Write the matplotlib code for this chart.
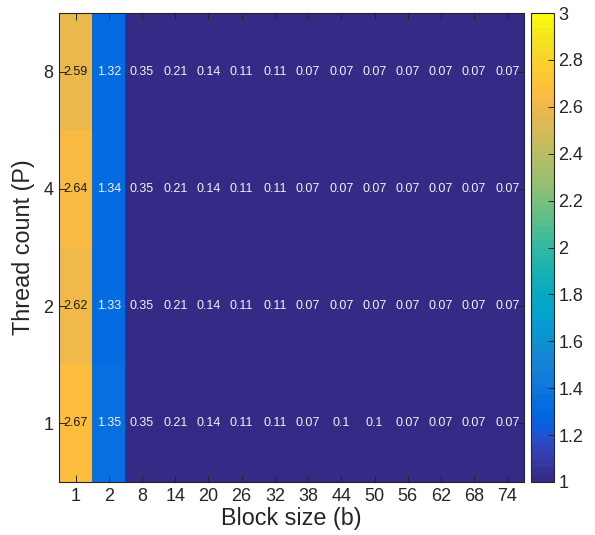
import numpy as np
import matplotlib
matplotlib.use("Agg")
import matplotlib.pyplot as plt
from matplotlib.colors import ListedColormap

plt.rcParams['font.family'] = ['Liberation Sans', 'DejaVu Sans']

block_sizes = ['1', '2', '8', '14', '20', '26', '32', '38', '44', '50', '56', '62', '68', '74']
thread_counts = ['1', '2', '4', '8']

p1 = [2.67, 1.35, 0.35, 0.21, 0.14, 0.11, 0.11, 0.07, 0.1, 0.1, 0.07, 0.07, 0.07, 0.07]
p2 = [2.62, 1.33, 0.35, 0.21, 0.14, 0.11, 0.11, 0.07, 0.07, 0.07, 0.07, 0.07, 0.07, 0.07]
p4 = [2.64, 1.34, 0.35, 0.21, 0.14, 0.11, 0.11, 0.07, 0.07, 0.07, 0.07, 0.07, 0.07, 0.07]
p8 = [2.59, 1.32, 0.35, 0.21, 0.14, 0.11, 0.11, 0.07, 0.07, 0.07, 0.07, 0.07, 0.07, 0.07]

parula_data = [[0.2081, 0.1663, 0.5292], [0.2116, 0.1898, 0.5777], [0.2123, 0.2138, 0.6270],
[0.2081, 0.2386, 0.6771], [0.1959, 0.2645, 0.7279], [0.1707, 0.2919, 0.7792], [0.1253, 0.3242, 0.8303],
[0.0591, 0.3598, 0.8683], [0.0117, 0.3875, 0.8820], [0.0060, 0.4086, 0.8828], [0.0165, 0.4266, 0.8786],
[0.0329, 0.4430, 0.8720], [0.0498, 0.4586, 0.8641], [0.0629, 0.4737, 0.8554], [0.0723, 0.4887, 0.8467],
[0.0779, 0.5040, 0.8384], [0.0793, 0.5200, 0.8312], [0.0749, 0.5375, 0.8263], [0.0641, 0.5570, 0.8240],
[0.0488, 0.5772, 0.8228], [0.0343, 0.5966, 0.8199], [0.0265, 0.6137, 0.8135], [0.0239, 0.6287, 0.8038],
[0.0231, 0.6418, 0.7913], [0.0228, 0.6535, 0.7768], [0.0267, 0.6642, 0.7607], [0.0384, 0.6743, 0.7436],
[0.0590, 0.6838, 0.7254], [0.0843, 0.6928, 0.7062], [0.1133, 0.7015, 0.6859], [0.1453, 0.7098, 0.6646],
[0.1801, 0.7177, 0.6424], [0.2178, 0.7250, 0.6193], [0.2586, 0.7317, 0.5954], [0.3022, 0.7376, 0.5712],
[0.3482, 0.7424, 0.5473], [0.3953, 0.7459, 0.5244], [0.4420, 0.7481, 0.5033], [0.4871, 0.7491, 0.4840],
[0.5300, 0.7491, 0.4661], [0.5709, 0.7485, 0.4494], [0.6099, 0.7473, 0.4337], [0.6473, 0.7456, 0.4188],
[0.6834, 0.7435, 0.4044], [0.7184, 0.7411, 0.3905], [0.7525, 0.7384, 0.3768], [0.7858, 0.7356, 0.3633],
[0.8185, 0.7327, 0.3498], [0.8507, 0.7299, 0.3360], [0.8824, 0.7274, 0.3217], [0.9139, 0.7258, 0.3063],
[0.9450, 0.7261, 0.2886], [0.9739, 0.7314, 0.2666], [0.9938, 0.7455, 0.2403], [0.9990, 0.7653, 0.2164],
[0.9955, 0.7861, 0.1967], [0.9880, 0.8066, 0.1794], [0.9789, 0.8271, 0.1633], [0.9697, 0.8481, 0.1475],
[0.9626, 0.8705, 0.1309], [0.9589, 0.8949, 0.1132], [0.9598, 0.9218, 0.0948], [0.9661, 0.9514, 0.0755],
[0.9763, 0.9831, 0.0538]]
parula = ListedColormap(parula_data, name='parula')

data = np.array([p1, p2, p4, p8])

W, H = 595, 535
fig = plt.figure(figsize=(W / 100, H / 100), dpi=100)

ax_l, ax_r, ax_t, ax_b = 59, 524, 13, 482
ax = fig.add_axes([ax_l / W, 1 - ax_b / H, (ax_r - ax_l) / W, (ax_b - ax_t) / H])
im = ax.imshow(data, cmap=parula, vmin=1, vmax=3, origin='lower', aspect='auto',
               interpolation='nearest')

for i in range(data.shape[0]):
    for j in range(data.shape[1]):
        v = data[i, j]
        col = '#1a1a1a' if v > 2 else '#f2f2f2'
        ax.text(j, i, f'{v:g}', ha='center', va='center', color=col, fontsize=9)

edge = '#262626'
ax.set_xticks(range(len(block_sizes)))
ax.set_xticklabels(block_sizes)
ax.set_yticks(range(len(thread_counts)))
ax.set_yticklabels(thread_counts)
ax.tick_params(direction='in', length=5, width=0.7, color=edge, labelsize=13,
               labelcolor='#262626', top=True, right=True, pad=4)
for s in ax.spines.values():
    s.set_linewidth(0.8)
    s.set_color(edge)
ax.set_xlabel('Block size (b)', fontsize=16.8, color='#262626', labelpad=2)
ax.set_ylabel('Thread count (P)', fontsize=16.8, color='#262626', labelpad=6)

cb_l, cb_r = 531, 554
cax = fig.add_axes([cb_l / W, 1 - ax_b / H, (cb_r - cb_l) / W, (ax_b - ax_t) / H])
cb = fig.colorbar(im, cax=cax)
ticks = np.round(np.arange(1, 3.001, 0.2), 1)
cb.set_ticks(ticks)
cb.set_ticklabels([f'{t:g}' for t in ticks])
cax.tick_params(direction='in', length=4, width=0.7, color=edge, labelsize=13,
                labelcolor='#262626', pad=3)
cb.outline.set_linewidth(0.8)
cb.outline.set_edgecolor(edge)

fig.savefig('out.png', dpi=100)
